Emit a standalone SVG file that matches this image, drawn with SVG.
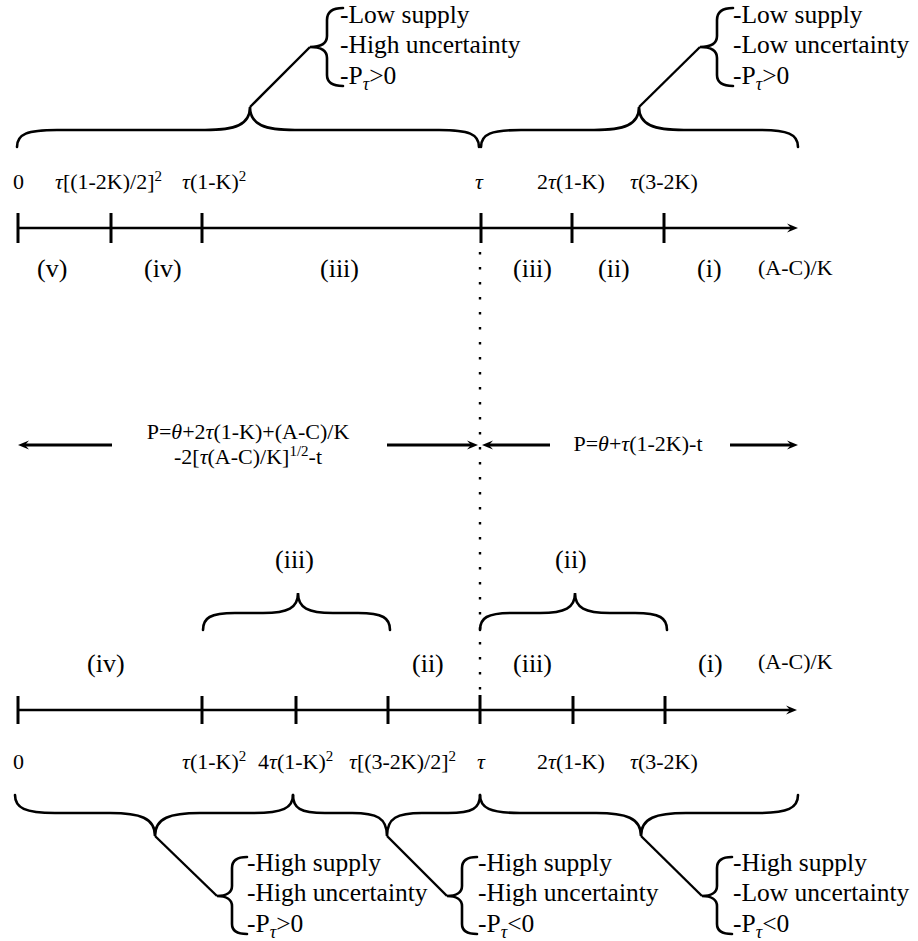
<svg xmlns="http://www.w3.org/2000/svg" width="918" height="941" viewBox="0 0 918 941">
<style>
text{font-family:"Liberation Serif","Times New Roman",serif;fill:#000}
.tk{font-size:22px}
.rg{font-size:26px}
.bt{font-size:25.5px}
.m{font-style:italic}
.ax{stroke:#000;stroke-width:2.6;fill:none}
.tick{stroke:#000;stroke-width:3;fill:none}
.br{stroke:#000;stroke-width:2.6;fill:none;stroke-linecap:round}
.ln{stroke:#000;stroke-width:2.4;fill:none}
.ar{stroke:#000;stroke-width:3;fill:none}
.dot{stroke:#000;stroke-width:2.4;stroke-dasharray:2.4 12.6;fill:none}
</style>
<defs>
<marker id="ah" viewBox="-12 -6 13 12" refX="-6" refY="0" markerWidth="13" markerHeight="12" markerUnits="userSpaceOnUse" orient="auto">
<path d="M0,0 L-11,-4.5 L-7,0 L-11,4.5 z" fill="#000"/>
</marker>
</defs>

<g id="connectors">
<line class="ln" x1="250" y1="107" x2="310" y2="47"/>
<line class="ln" x1="639" y1="107" x2="700" y2="47"/>
<line class="ln" x1="155" y1="836" x2="217" y2="896"/>
<line class="ln" x1="387" y1="836" x2="447" y2="896"/>
<line class="ln" x1="641" y1="836" x2="702" y2="896"/>
<line class="dot" x1="480" y1="252" x2="480" y2="694"/>
<line class="ar" x1="112" y1="445" x2="24" y2="445" marker-end="url(#ah)"/>
<line class="ar" x1="387" y1="445" x2="472" y2="445" marker-end="url(#ah)"/>
<line class="ar" x1="550" y1="445" x2="488" y2="445" marker-end="url(#ah)"/>
<line class="ar" x1="730" y1="445" x2="792" y2="445" marker-end="url(#ah)"/>
</g>

<g id="axis-top">
<line class="ax" x1="18" y1="228" x2="792" y2="228" marker-end="url(#ah)"/>
<line class="tick" x1="18" y1="213" x2="18" y2="243"/>
<line class="tick" x1="111" y1="213" x2="111" y2="243"/>
<line class="tick" x1="202" y1="213" x2="202" y2="243"/>
<line class="tick" x1="481" y1="213" x2="481" y2="243"/>
<line class="tick" x1="572" y1="213" x2="572" y2="243"/>
<line class="tick" x1="664" y1="213" x2="664" y2="243"/>
</g>

<g id="axis-top-ticklabels" class="tk">
<text x="13" y="189">0</text>
<text x="55" y="189"><tspan class="m">τ</tspan>[(1-2K)/2]<tspan dy="-8" font-size="15">2</tspan></text>
<text x="182" y="189"><tspan class="m">τ</tspan>(1-K)<tspan dy="-8" font-size="15">2</tspan></text>
<text x="475" y="189" class="m">τ</text>
<text x="537" y="189">2<tspan class="m">τ</tspan>(1-K)</text>
<text x="630" y="189"><tspan class="m">τ</tspan>(3-2K)</text>
</g>

<g id="axis-top-regions" class="rg">
<text x="37" y="277">(v)</text>
<text x="144" y="277">(iv)</text>
<text x="320" y="277">(iii)</text>
<text x="513" y="277">(iii)</text>
<text x="598" y="277">(ii)</text>
<text x="697" y="277">(i)</text>
<text x="758" y="275" class="tk" font-size="21">(A-C)/K</text>
</g>

<g id="brace-top-left">
<path class="br" d="M17,147 C17,134 27,130 57,130 L205,130 C235,130 250,125 250,107 C250,125 265,130 295,130 L439,130 C469,130 479,134 479,147"/>
</g>
<g id="brace-top-right">
<path class="br" d="M481,147 C481,134 491,130 521,130 L594,130 C624,130 639,125 639,107 C639,125 654,130 684,130 L758,130 C788,130 798,134 798,147"/>
</g>

<g id="note-top-left">
<path class="br" d="M343,8 C334,8 327,11 327,20 L327,36 C327,43 322,47 310,47 C322,47 327,51 327,58 L327,75 C327,83 334,86 343,86"/>
<text class="bt" x="340" y="23">-Low supply</text>
<text class="bt" x="340" y="53">-High uncertainty</text>
<text class="bt" x="340" y="84">-P<tspan class="m" dy="6" font-size="18">τ</tspan><tspan dy="-6">&gt;0</tspan></text>
</g>
<g id="note-top-right">
<path class="br" d="M733,8 C724,8 717,11 717,20 L717,36 C717,43 712,47 700,47 C712,47 717,51 717,58 L717,75 C717,83 724,86 733,86"/>
<text class="bt" x="733" y="23">-Low supply</text>
<text class="bt" x="733" y="53">-Low uncertainty</text>
<text class="bt" x="733" y="84">-P<tspan class="m" dy="6" font-size="18">τ</tspan><tspan dy="-6">&gt;0</tspan></text>
</g>

<g id="formula-left" class="tk">
<text x="248" y="439" text-anchor="middle">P=<tspan class="m">θ</tspan>+2<tspan class="m">τ</tspan>(1-K)+(A-C)/K</text>
<text x="248" y="464" text-anchor="middle">-2[<tspan class="m">τ</tspan>(A-C)/K]<tspan dy="-8" font-size="15">1/2</tspan><tspan dy="8">-t</tspan></text>
</g>
<g id="formula-right" class="tk">
<text x="638" y="451" text-anchor="middle">P=<tspan class="m">θ</tspan>+<tspan class="m">τ</tspan>(1-2K)-t</text>
</g>

<g id="brace-mid-iii">
<path class="br" d="M203,630 C203,618 210,613 235,613 L263,613 C288,613 298,608 298,593 C298,608 308,613 333,613 L358,613 C383,613 390,618 390,630"/>
<text class="rg" x="275" y="568">(iii)</text>
</g>
<g id="brace-mid-ii">
<path class="br" d="M480,630 C480,618 487,613 512,613 L540,613 C565,613 575,608 575,593 C575,608 585,613 610,613 L635,613 C660,613 667,618 667,630"/>
<text class="rg" x="555" y="568">(ii)</text>
</g>

<g id="axis-bottom-regions" class="rg">
<text x="87" y="672">(iv)</text>
<text x="412" y="672">(ii)</text>
<text x="513" y="672">(iii)</text>
<text x="698" y="672">(i)</text>
<text x="758" y="669" class="tk" font-size="21">(A-C)/K</text>
</g>

<g id="axis-bottom">
<line class="ax" x1="18" y1="710" x2="791" y2="710" marker-end="url(#ah)"/>
<line class="tick" x1="18" y1="696" x2="18" y2="724"/>
<line class="tick" x1="202" y1="696" x2="202" y2="724"/>
<line class="tick" x1="296" y1="696" x2="296" y2="724"/>
<line class="tick" x1="388" y1="696" x2="388" y2="724"/>
<line class="tick" x1="480" y1="695" x2="480" y2="724"/>
<line class="tick" x1="573" y1="696" x2="573" y2="724"/>
<line class="tick" x1="665" y1="696" x2="665" y2="724"/>
</g>

<g id="axis-bottom-ticklabels" class="tk">
<text x="13" y="769">0</text>
<text x="182" y="769"><tspan class="m">τ</tspan>(1-K)<tspan dy="-8" font-size="15">2</tspan></text>
<text x="258" y="769">4<tspan class="m">τ</tspan>(1-K)<tspan dy="-8" font-size="15">2</tspan></text>
<text x="349" y="769"><tspan class="m">τ</tspan>[(3-2K)/2]<tspan dy="-8" font-size="15">2</tspan></text>
<text x="477" y="769" class="m">τ</text>
<text x="537" y="769">2<tspan class="m">τ</tspan>(1-K)</text>
<text x="630" y="769"><tspan class="m">τ</tspan>(3-2K)</text>
</g>

<g id="brace-bottom-1">
<path class="br" d="M15,795 C15,808 25,813 55,813 L110,813 C140,813 155,818 155,836 C155,818 170,813 200,813 L253,813 C283,813 293,808 293,795"/>
</g>
<g id="brace-bottom-2">
<path class="br" d="M293,795 C293,808 300,813 325,813 L352,813 C377,813 387,818 387,836 C387,818 397,813 422,813 L448,813 C473,813 480,808 480,795"/>
</g>
<g id="brace-bottom-3">
<path class="br" d="M480,795 C480,808 490,813 520,813 L596,813 C626,813 641,818 641,836 C641,818 656,813 686,813 L758,813 C788,813 798,808 798,795"/>
</g>

<g id="note-bottom-1">
<path class="br" d="M247,857 C238,857 232,860 232,868 L232,886 C232,892 227,896 217,896 C227,896 232,900 232,906 L232,924 C232,931 238,934 247,934"/>
<text class="bt" x="247" y="871">-High supply</text>
<text class="bt" x="247" y="901">-High uncertainty</text>
<text class="bt" x="247" y="932">-P<tspan class="m" dy="6" font-size="18">τ</tspan><tspan dy="-6">&gt;0</tspan></text>
</g>
<g id="note-bottom-2">
<path class="br" d="M477,857 C468,857 462,860 462,868 L462,886 C462,892 457,896 447,896 C457,896 462,900 462,906 L462,924 C462,931 468,934 477,934"/>
<text class="bt" x="478" y="871">-High supply</text>
<text class="bt" x="478" y="901">-High uncertainty</text>
<text class="bt" x="478" y="932">-P<tspan class="m" dy="6" font-size="18">τ</tspan><tspan dy="-6">&lt;0</tspan></text>
</g>
<g id="note-bottom-3">
<path class="br" d="M732,857 C723,857 717,860 717,868 L717,886 C717,892 712,896 702,896 C712,896 717,900 717,906 L717,924 C717,931 723,934 732,934"/>
<text class="bt" x="733" y="871">-High supply</text>
<text class="bt" x="733" y="901">-Low uncertainty</text>
<text class="bt" x="733" y="932">-P<tspan class="m" dy="6" font-size="18">τ</tspan><tspan dy="-6">&lt;0</tspan></text>
</g>
</svg>
